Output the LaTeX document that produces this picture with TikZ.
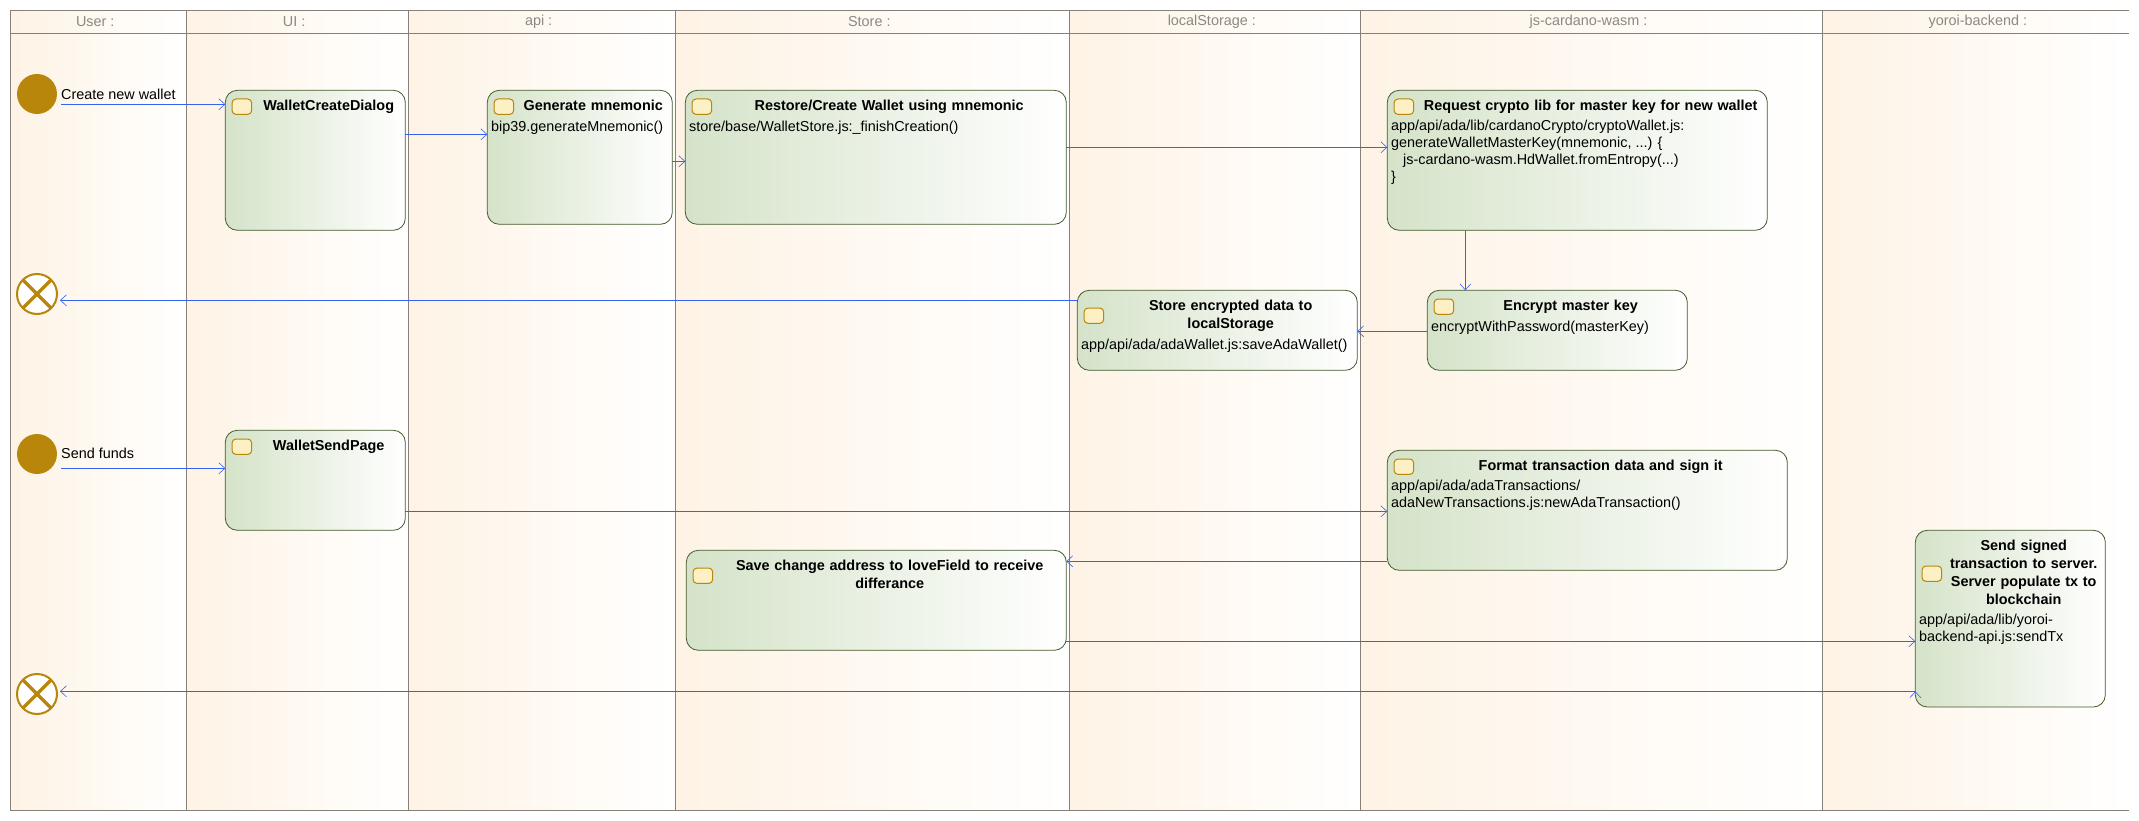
\documentclass[tikz,border=0pt]{standalone}
\usepackage{fontspec}
\setmainfont{Liberation Sans}
\usetikzlibrary{positioning, arrows.meta}
\definecolor{lanepeach}{HTML}{FEF3E5}
\definecolor{lanemid}{HTML}{FFFBF5}
\definecolor{laneline}{HTML}{85817A}
\definecolor{headgrey}{HTML}{8C8A80}
\definecolor{boxgreen}{HTML}{D5E3C9}
\definecolor{boxline}{HTML}{435A2C}
\definecolor{dotgold}{HTML}{B8860B}
\definecolor{iconfill}{HTML}{FDF0C4}
\definecolor{flowblue}{HTML}{3563F0}
\tikzset{
	>={Straight Barb[length=6pt,width=11pt,line width=.6pt]}, % open arrow heads
	lanefill/.style={left color=lanepeach, middle color=lanemid, right color=white, inner sep=0, outer sep=0},
	lanehead/.style={lanefill, draw=laneline, line width=1pt, minimum height=23pt, anchor=north west, text=headgrey, font=\fontsize{14.4}{18}\selectfont, execute at end node=\hspace*{6pt}},
	lanebody/.style={lanefill, draw=laneline, line width=1pt, minimum height=777pt},
	laneedge/.style={draw=laneline, line width=1pt}, % the last lane has no right side
	action/.style={draw=boxline, line width=.8pt, rounded corners=12pt, left color=boxgreen, right color=white, inner sep=0, outer sep=0, anchor=north west}, % the rounded activity box
	boxtitle/.style={inner sep=0, align=center, font=\fontsize{14.4}{18}\selectfont\bfseries, execute at begin node=\strut, execute at end node=\strut},
	boxcode/.style={inner sep=0, align=left, anchor=north west, xshift=3.7pt, yshift=-3.5pt, font=\fontsize{14.4}{17}\selectfont, execute at begin node=\strut, execute at end node=\strut},
	boxicon/.style={draw=dotgold, line width=1pt, fill=iconfill, rounded corners=4pt, inner sep=0, minimum width=19.7pt, minimum height=15.4pt, outer sep=0},
	startdot/.style={circle, fill=dotgold, inner sep=0, minimum size=40pt, outer sep=4pt},
	enddot/.style={circle, draw=dotgold, line width=2pt, fill=white, inner sep=0, minimum size=40pt, outer sep=3pt, path picture={
		\draw[dotgold, line width=3.5pt] (path picture bounding box.north west) -- (path picture bounding box.south east) (path picture bounding box.north east) -- (path picture bounding box.south west);}},
	flowtext/.style={inner sep=0, anchor=west, font=\fontsize{14.4}{17}\selectfont},
	flow/.style={->, draw=flowblue, line width=1pt},
}
\begin{document}
\begin{tikzpicture}[x=1pt, y=-1pt]
	\useasboundingbox (0,0) rectangle (2139,821);
	% lanes
	\node[lanehead, minimum width=176pt] (headuser) at (10.3,10.3) {User :};
	\node[lanehead, minimum width=221.7pt, right=0pt of headuser] (headui) {UI :};
	\node[lanehead, minimum width=267.3pt, right=0pt of headui] (headapi) {api :};
	\node[lanehead, minimum width=394pt, right=0pt of headapi] (headstore) {Store :};
	\node[lanehead, minimum width=291pt, right=0pt of headstore] (headlocal) {localStorage :};
	\node[lanehead, minimum width=462.4pt, right=0pt of headlocal] (headwasm) {js-cardano-wasm :};
	\node[lanehead, draw=none, minimum width=306.3pt, right=0pt of headwasm, execute at end node={}, execute at begin node=\hspace*{10pt}] (headyoroi) {yoroi-backend :};
	\node[lanebody, minimum width=176pt, below=0pt of headuser] (laneuser) {};
	\node[lanebody, minimum width=221.7pt, below=0pt of headui] (laneui) {};
	\node[lanebody, minimum width=267.3pt, below=0pt of headapi] (laneapi) {};
	\node[lanebody, minimum width=394pt, below=0pt of headstore] (lanestore) {};
	\node[lanebody, minimum width=291pt, below=0pt of headlocal] (lanelocal) {};
	\node[lanebody, minimum width=462.4pt, below=0pt of headwasm] (lanewasm) {};
	\node[lanebody, draw=none, minimum width=306.3pt, below=0pt of headyoroi] (laneyoroi) {};
	\draw[laneedge] (headyoroi.north east) -- (headyoroi.north west) -- (laneyoroi.south west) -- (laneyoroi.south east)
		(headyoroi.south west) -- (headyoroi.south east);
	% start and end points
	\node[startdot] (startone) at (37,94) {};
	\node[startdot] (starttwo) at (37,454) {};
	\node[enddot] (endone) at (37,294) {};
	\node[enddot] (endtwo) at (37,694) {};
	\node[flowtext] (textone) at (61,94) {Create new wallet};
	\node[flowtext] (texttwo) at (61,453.7) {Send funds};
	% first row
	\node[action, minimum width=180pt, minimum height=140pt] (dialog) at (225.3,90.3) {};
	\node[boxtitle, text width=153.6pt, below right=7.2pt and 26.4pt of dialog.north west] (dialogt) {WalletCreateDialog};
	\node[boxicon, left=0pt of dialogt] (dialogi) {};
	\node[action, minimum width=185pt, minimum height=134pt] (mnemonic) at (487.3,90.3) {};
	\node[boxtitle, text width=158.6pt, below right=7.2pt and 26.4pt of mnemonic.north west] (mnemonict) {Generate mnemonic};
	\node[boxicon, left=0pt of mnemonict] (mnemonici) {};
	\node[boxcode] (mnemonicc) at (mnemonic.west |- mnemonict.south) {bip39.generateMnemonic()};
	\node[action, minimum width=381pt, minimum height=134pt] (restore) at (685.3,90.3) {};
	\node[boxtitle, text width=354.6pt, below right=7.2pt and 26.4pt of restore.north west] (restoret) {Restore/Create Wallet using mnemonic};
	\node[boxicon, left=0pt of restoret] (restorei) {};
	\node[boxcode] (restorec) at (restore.west |- restoret.south) {store/base/WalletStore.js:\_finishCreation()};
	\node[action, minimum width=380pt, minimum height=140pt] (request) at (1387.3,90.3) {};
	\node[boxtitle, text width=353.6pt, below right=7.2pt and 26.4pt of request.north west] (requestt) {Request crypto lib for master key for new wallet};
	\node[boxicon, left=0pt of requestt] (requesti) {};
	\node[boxcode] (requestc) at (request.west |- requestt.south) {app/api/ada/lib/cardanoCrypto/cryptoWallet.js:\\generateWalletMasterKey(mnemonic, ...) \{\\\hspace*{12pt}js-cardano-wasm.HdWallet.fromEntropy(...)\\\}};
	% second row
	\node[action, minimum width=280pt, minimum height=80pt] (save) at (1077.3,290.3) {};
	\node[boxtitle, text width=253.6pt, below right=7.2pt and 26.4pt of save.north west] (savet) {Store encrypted data to\\localStorage};
	\node[boxicon, left=0pt of savet] (savei) {};
	\node[boxcode] (savec) at (save.west |- savet.south) {app/api/ada/adaWallet.js:saveAdaWallet()};
	\node[action, minimum width=260pt, minimum height=80pt] (encrypt) at (1427.3,290.3) {};
	\node[boxtitle, text width=233.6pt, below right=7.2pt and 26.4pt of encrypt.north west] (encryptt) {Encrypt master key};
	\node[boxicon, left=0pt of encryptt] (encrypti) {};
	\node[boxcode] (encryptc) at (encrypt.west |- encryptt.south) {encryptWithPassword(masterKey)};
	% send funds
	\node[action, minimum width=180pt, minimum height=100pt] (sendpage) at (225.3,430.3) {};
	\node[boxtitle, text width=153.6pt, below right=7.2pt and 26.4pt of sendpage.north west] (sendpaget) {WalletSendPage};
	\node[boxicon, left=0pt of sendpaget] (sendpagei) {};
	\node[action, minimum width=400pt, minimum height=120pt] (format) at (1387.3,450.3) {};
	\node[boxtitle, text width=373.6pt, below right=7.2pt and 26.4pt of format.north west] (formatt) {Format transaction data and sign it};
	\node[boxicon, left=0pt of formatt] (formati) {};
	\node[boxcode] (formatc) at (format.west |- formatt.south) {app/api/ada/adaTransactions/\\adaNewTransactions.js:newAdaTransaction()};
	\node[action, minimum width=380pt, minimum height=100pt] (change) at (686.3,550.3) {};
	\node[boxtitle, text width=353.6pt, below right=7.2pt and 26.4pt of change.north west] (changet) {Save change address to loveField to receive\\differance};
	\node[boxicon, left=0pt of changet] (changei) {};
	\node[action, minimum width=190pt, minimum height=176.7pt] (server) at (1915.3,530.3) {};
	\node[boxtitle, text width=163.6pt, below right=7.2pt and 26.4pt of server.north west] (servert) {Send signed\\transaction to server.\\Server populate tx to\\blockchain};
	\node[boxicon, left=0pt of servert] (serveri) {};
	\node[boxcode] (serverc) at (server.west |- servert.south) {app/api/ada/lib/yoroi-\\backend-api.js:sendTx};
	% connectors
	\draw[flow]	(startone.east |- 0,104.3) edge (dialog.west |- 0,104.3)
			(dialog.east |- 0,134.3) edge (mnemonic.west |- 0,134.3)
			(mnemonic.east |- 0,161.3) edge (restore.west |- 0,161.3)
			(restore.east |- 0,147.3) edge (request.west |- 0,147.3)
			(request.south -| 1465.3,0) edge (encrypt.north -| 1465.3,0)
			(encrypt.west |- 0,331.3) edge (save.east |- 0,331.3)
			(save.west |- 0,300.3) edge (endone.east |- 0,300.3)
			(starttwo.east |- 0,468.3) edge (sendpage.west |- 0,468.3)
			(sendpage.east |- 0,511.3) edge (format.west |- 0,511.3)
			(format.west |- 0,561.3) edge (change.east |- 0,561.3)
			(change.east |- 0,641.3) edge (server.west |- 0,641.3)
			(server.west |- 0,691.3) edge (endtwo.east |- 0,691.3);
\end{tikzpicture}
\end{document}
